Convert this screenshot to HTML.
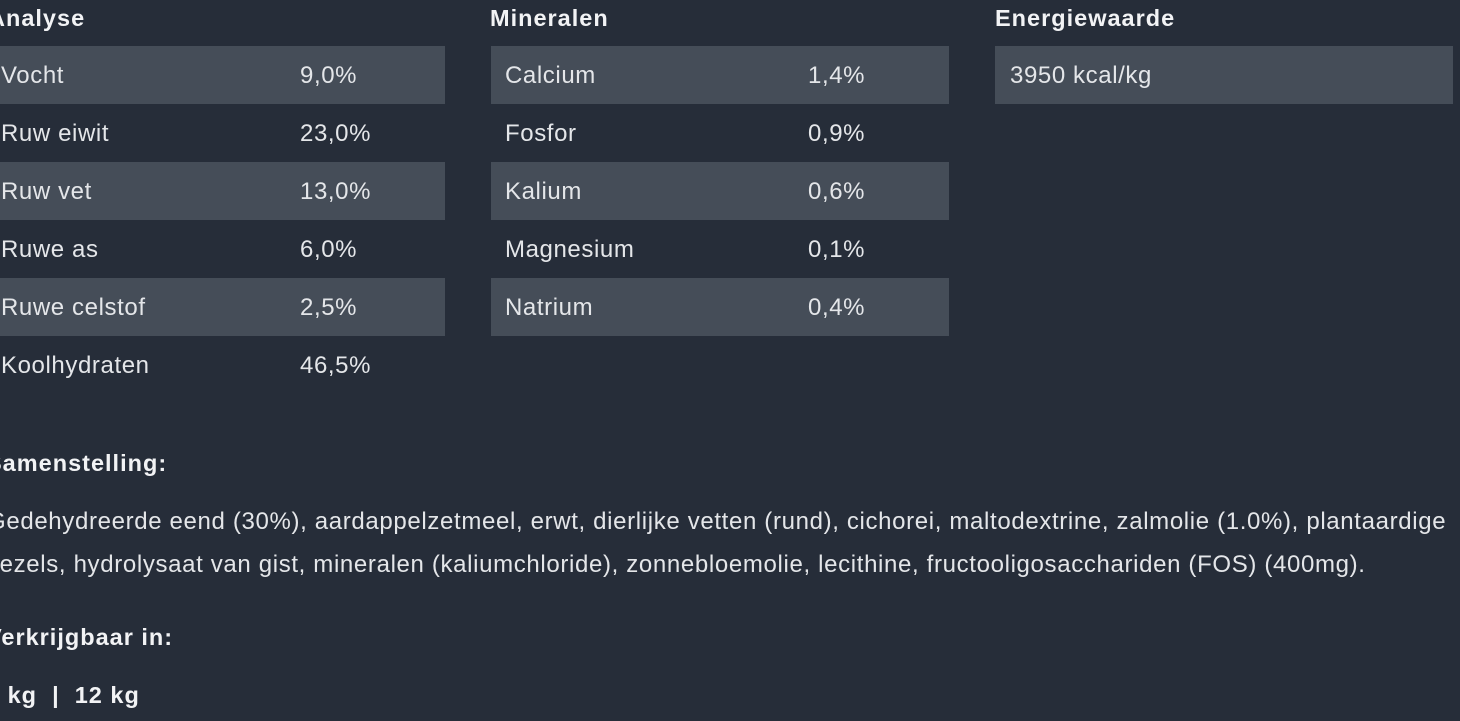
<!DOCTYPE html>
<html><head><meta charset="utf-8"><style>
html,body{margin:0;padding:0;}
body{width:1460px;height:721px;background:#262d39;overflow:hidden;position:relative;font-family:"Liberation Sans","DejaVu Sans",sans-serif;color:#e4e6e9;}
.t{position:absolute;white-space:nowrap;font-size:24px;line-height:30px;letter-spacing:0.6px;}
.h{position:absolute;white-space:nowrap;font-size:23.5px;line-height:30px;font-weight:bold;color:#f2f3f5;letter-spacing:1px;}
.r{position:absolute;height:58px;background:#454d58;}
</style></head><body>
<div class="h" style="left:-12px;top:3px">Analyse</div>
<div class="h" style="left:490px;top:3px">Mineralen</div>
<div class="h" style="left:995px;top:3px">Energiewaarde</div>

<div class="r" style="left:0;top:46px;width:445px"></div>
<div class="r" style="left:0;top:162px;width:445px"></div>
<div class="r" style="left:0;top:278px;width:445px"></div>
<div class="r" style="left:491px;top:46px;width:458px"></div>
<div class="r" style="left:491px;top:162px;width:458px"></div>
<div class="r" style="left:491px;top:278px;width:458px"></div>
<div class="r" style="left:995px;top:46px;width:458px"></div>

<div class="t" style="left:1px;top:61px">Vocht</div><div class="t" style="left:300px;top:61px">9,0%</div>
<div class="t" style="left:1px;top:119px">Ruw eiwit</div><div class="t" style="left:300px;top:119px">23,0%</div>
<div class="t" style="left:1px;top:177px">Ruw vet</div><div class="t" style="left:300px;top:177px">13,0%</div>
<div class="t" style="left:1px;top:235px">Ruwe as</div><div class="t" style="left:300px;top:235px">6,0%</div>
<div class="t" style="left:1px;top:293px">Ruwe celstof</div><div class="t" style="left:300px;top:293px">2,5%</div>
<div class="t" style="left:1px;top:351px">Koolhydraten</div><div class="t" style="left:300px;top:351px">46,5%</div>

<div class="t" style="left:505px;top:61px">Calcium</div><div class="t" style="left:808px;top:61px">1,4%</div>
<div class="t" style="left:505px;top:119px">Fosfor</div><div class="t" style="left:808px;top:119px">0,9%</div>
<div class="t" style="left:505px;top:177px">Kalium</div><div class="t" style="left:808px;top:177px">0,6%</div>
<div class="t" style="left:505px;top:235px">Magnesium</div><div class="t" style="left:808px;top:235px">0,1%</div>
<div class="t" style="left:505px;top:293px">Natrium</div><div class="t" style="left:808px;top:293px">0,4%</div>

<div class="t" style="left:1010px;top:61px">3950 kcal/kg</div>

<div class="h" style="left:-14px;top:448px">Samenstelling:</div>
<div class="t" style="left:-13px;top:507px;letter-spacing:0.65px">Gedehydreerde eend (30%), aardappelzetmeel, erwt, dierlijke vetten (rund), cichorei, maltodextrine, zalmolie (1.0%), plantaardige</div>
<div class="t" style="left:-13px;top:550px;letter-spacing:0.65px">vezels, hydrolysaat van gist, mineralen (kaliumchloride), zonnebloemolie, lecithine, fructooligosacchariden (FOS) (400mg).</div>
<div class="h" style="left:-14px;top:622px">Verkrijgbaar in:</div>
<div class="h" style="left:-14px;top:680px">4 kg &nbsp;| &nbsp;12 kg</div>
</body></html>
